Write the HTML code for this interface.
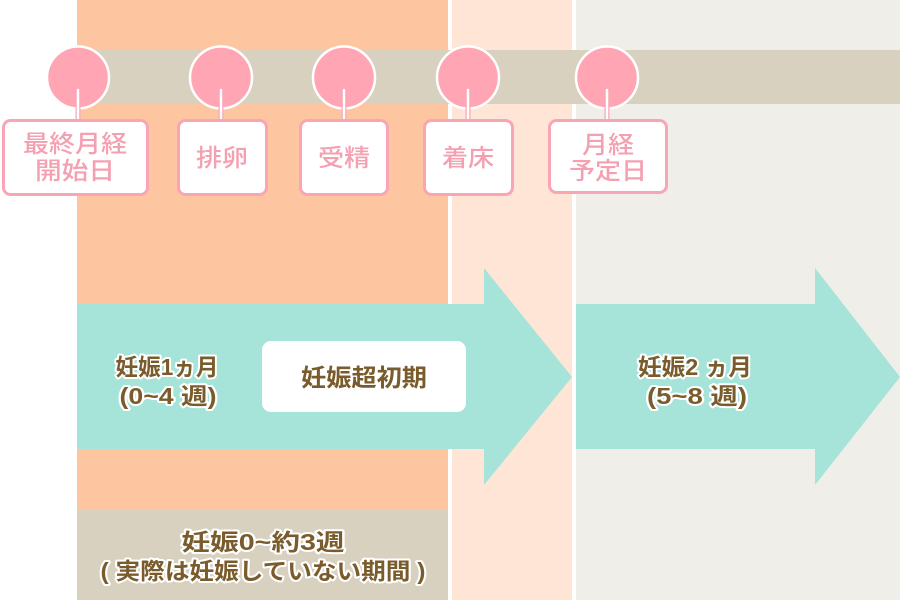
<!DOCTYPE html>
<html><head><meta charset="utf-8"><style>
html,body{margin:0;padding:0;background:#fff;}
svg{display:block;}
.lab{font-family:"Liberation Sans","Noto Sans CJK JP",sans-serif;font-size:24px;fill:#F5A0B0;font-weight:500;}
.br{font-family:"Liberation Sans","Noto Sans CJK JP",sans-serif;font-size:23px;fill:#7A5C2C;font-weight:bold;stroke:#fff;stroke-width:4px;paint-order:stroke;stroke-linejoin:round;}
.brn{font-family:"Liberation Sans","Noto Sans CJK JP",sans-serif;font-size:24px;fill:#7A5C2C;font-weight:bold;}
</style></head><body>
<svg width="900" height="600" viewBox="0 0 900 600" xmlns="http://www.w3.org/2000/svg">
<rect x="0" y="0" width="900" height="600" fill="#fff"/>
<rect x="77" y="0" width="371" height="600" fill="#FEC6A0"/>
<rect x="452" y="0" width="120" height="600" fill="#FFE5D5"/>
<rect x="576" y="0" width="324" height="600" fill="#F0EEE9"/>
<rect x="77" y="50" width="823" height="54" fill="#D9D1C0"/>
<rect x="77" y="510" width="371" height="90" fill="#D9D1C0"/>
<polygon points="77,304 484,304 484,268 572,377 484,485 484,449 77,449" fill="#A6E3D9"/>
<polygon points="576,304 815,304 815,268 900,377 815,485 815,449 576,449" fill="#A6E3D9"/>
<rect x="262" y="341" width="204" height="71" rx="9" fill="#fff"/>
<g fill="#FFA5B3" stroke="#fff" stroke-width="2.5">
<circle cx="78" cy="77.5" r="31"/>
<circle cx="221" cy="77.5" r="31"/>
<circle cx="344" cy="77.5" r="31"/>
<circle cx="468" cy="77.5" r="31"/>
<circle cx="607" cy="77.5" r="31"/>
</g>
<g stroke="#F8A7B6" stroke-width="5" stroke-linecap="round">
<line x1="78" y1="90" x2="78" y2="120"/>
<line x1="221" y1="90" x2="221" y2="120"/>
<line x1="344" y1="90" x2="344" y2="120"/>
<line x1="468" y1="90" x2="468" y2="120"/>
<line x1="607" y1="90" x2="607" y2="120"/>
</g>
<g stroke="#fff" stroke-width="2.5" stroke-linecap="round">
<line x1="78" y1="90" x2="78" y2="121"/>
<line x1="221" y1="90" x2="221" y2="121"/>
<line x1="344" y1="90" x2="344" y2="121"/>
<line x1="468" y1="90" x2="468" y2="121"/>
<line x1="607" y1="90" x2="607" y2="121"/>
</g>
<g fill="#fff" stroke="#F9A5B5" stroke-width="3">
<rect x="3.5" y="120.5" width="144" height="74" rx="7"/>
<rect x="178.5" y="120.5" width="88" height="74" rx="7"/>
<rect x="300.5" y="120.5" width="87" height="74" rx="7"/>
<rect x="424.5" y="120.5" width="88" height="74" rx="7"/>
<rect x="549.5" y="120.5" width="117" height="72" rx="7"/>
</g>
<g class="lab" text-anchor="middle">
<text x="75" y="152" textLength="104" lengthAdjust="spacingAndGlyphs">最終月経</text>
<text x="75" y="179" textLength="80" lengthAdjust="spacingAndGlyphs">開始日</text>
<text x="222" y="166" textLength="52" lengthAdjust="spacingAndGlyphs">排卵</text>
<text x="344" y="166" textLength="52" lengthAdjust="spacingAndGlyphs">受精</text>
<text x="468" y="166" textLength="52" lengthAdjust="spacingAndGlyphs">着床</text>
<text x="608" y="153" textLength="52" lengthAdjust="spacingAndGlyphs">月経</text>
<text x="608" y="179" textLength="78" lengthAdjust="spacingAndGlyphs">予定日</text>
</g>
<g class="br" text-anchor="middle">
<text x="167" y="375" textLength="103" lengthAdjust="spacingAndGlyphs">妊娠1ヵ月</text>
<text x="168" y="404" textLength="97" lengthAdjust="spacingAndGlyphs">(0~4 週)</text>
<text x="695" y="375" textLength="114" lengthAdjust="spacingAndGlyphs">妊娠2 ヵ月</text>
<text x="697" y="404" textLength="100" lengthAdjust="spacingAndGlyphs">(5~8 週)</text>
<text x="263" y="550" textLength="163" lengthAdjust="spacingAndGlyphs">妊娠0~約3週</text>
<text x="263" y="579" textLength="325" lengthAdjust="spacingAndGlyphs">( 実際は妊娠していない期間 )</text>
</g>
<text class="brn" x="364" y="386" text-anchor="middle" textLength="126" lengthAdjust="spacingAndGlyphs">妊娠超初期</text>
</svg>
</body></html>
